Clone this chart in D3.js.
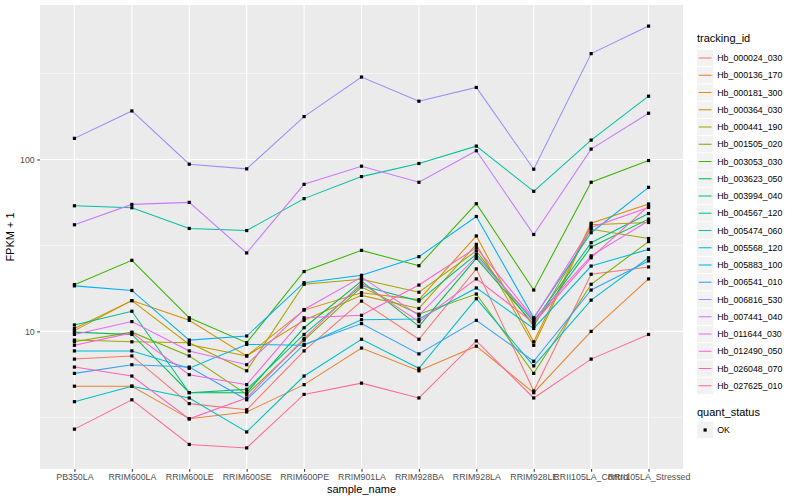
<!DOCTYPE html>
<html>
<head>
<meta charset="utf-8">
<script src="https://cdn.jsdelivr.net/npm/d3@7"></script>
<style>
  body { margin: 0; background: #fff; }
  text { font-family: "Liberation Sans", Arial, sans-serif; }
</style>
</head>
<body>
<svg id="chart" width="800" height="500"></svg>
<script>
// x categories
const samples = ["PB350LA", "RRIM600LA", "RRIM600LE", "RRIM600SE", "RRIM600PE", "RRIM901LA",
  "RRIM928BA", "RRIM928LA", "RRIM928LE", "RRII105LA_Control", "RRII105LA_Stressed"]

const trackingIds = ["Hb_000024_030", "Hb_000136_170", "Hb_000181_300", "Hb_000364_030", "Hb_000441_190",
  "Hb_001505_020", "Hb_003053_030", "Hb_003623_050", "Hb_003994_040", "Hb_004567_120",
  "Hb_005474_060", "Hb_005568_120", "Hb_005883_100", "Hb_006541_010", "Hb_006816_530",
  "Hb_007441_040", "Hb_011644_030", "Hb_012490_050", "Hb_026048_070", "Hb_027625_010"]

// ggplot default hue palette, 20 levels
const colors = ["#F8766D", "#EA8331", "#D89000", "#C09B00", "#A3A500", "#7CAE00", "#39B600", "#00BB4E",
  "#00BF7D", "#00C1A3", "#00BFC4", "#00BAE0", "#00B0F6", "#35A2FF", "#9590FF", "#C77CFF",
  "#E76BF3", "#FA62DB", "#FF62BC", "#FF6C91"]

// FPKM + 1, one array per tracking_id, in sample order
const hb_000024_030 = [6.9, 7.2, 3.8, 3.5, 7.7, 15.0, 9.0, 23.1, 4.5, 21.5, 23.7]
const hb_000136_170 = [4.8, 4.8, 3.1, 3.4, 4.9, 8.0, 5.9, 8.2, 4.4, 10.0, 20.2]
const hb_000181_300 = [10.1, 15.1, 11.6, 7.2, 13.3, 16.8, 15.3, 35.9, 8.7, 42.6, 55.1]
const hb_000364_030 = [10.4, 15.1, 8.4, 7.2, 11.6, 16.2, 13.6, 32.1, 8.3, 41.7, 43.0]
const hb_000441_190 = [8.9, 8.7, 8.6, 5.9, 18.8, 20.1, 16.9, 29.4, 10.7, 39.3, 34.7]
const hb_001505_020 = [8.7, 9.9, 7.2, 4.3, 8.9, 18.1, 12.6, 16.5, 5.7, 18.8, 33.3]
const hb_003053_030 = [18.7, 25.9, 12.0, 8.6, 22.3, 29.6, 24.1, 55.3, 17.4, 73.7, 98.6]
const hb_003623_050 = [9.9, 9.6, 4.4, 4.4, 10.5, 19.6, 10.7, 26.6, 11.0, 31.0, 45.0]
const hb_003994_040 = [10.9, 13.1, 4.4, 4.6, 9.6, 18.5, 15.0, 28.1, 11.4, 32.8, 48.5]
const hb_004567_120 = [53.8, 52.4, 39.7, 38.6, 59.2, 79.5, 94.8, 119.6, 65.3, 129.7, 233.5]
const hb_005474_060 = [3.9, 4.8, 4.1, 2.6, 5.5, 9.0, 6.1, 15.5, 6.3, 15.2, 26.8]
const hb_005568_120 = [7.7, 7.7, 6.1, 8.4, 8.3, 11.7, 11.8, 17.9, 10.4, 24.0, 30.0]
const hb_005883_100 = [18.4, 17.3, 8.9, 9.4, 19.2, 21.2, 27.2, 46.6, 12.0, 37.5, 68.9]
const hb_006541_010 = [5.7, 6.4, 6.2, 4.0, 8.4, 11.1, 7.4, 11.6, 6.7, 17.4, 25.7]
const hb_006816_530 = [132.7, 191.6, 93.9, 88.2, 177.7, 301.7, 218.3, 262.5, 87.8, 412.8, 597]
const hb_007441_040 = [41.7, 54.8, 56.3, 28.6, 71.7, 91.4, 73.7, 112.4, 36.6, 114.9, 185.8]
const hb_011644_030 = [9.6, 11.4, 7.7, 6.4, 13.4, 20.7, 12.4, 27.2, 11.7, 27.5, 44.0]
const hb_012490_050 = [8.3, 9.8, 5.6, 4.9, 12.0, 12.4, 18.6, 30.7, 11.9, 40.2, 52.6]
const hb_026048_070 = [6.2, 5.5, 3.1, 4.1, 9.1, 19.1, 11.4, 20.2, 11.2, 26.8, 53.8]
const hb_027625_010 = [2.7, 4.0, 2.2, 2.1, 4.3, 5.0, 4.1, 8.8, 4.1, 6.9, 9.6]

const seriesValues = [hb_000024_030, hb_000136_170, hb_000181_300, hb_000364_030, hb_000441_190,
  hb_001505_020, hb_003053_030, hb_003623_050, hb_003994_040, hb_004567_120,
  hb_005474_060, hb_005568_120, hb_005883_100, hb_006541_010, hb_006816_530,
  hb_007441_040, hb_011644_030, hb_012490_050, hb_026048_070, hb_027625_010]

const yMajor = [10, 100]
const yMinor = [10 ** 0.5, 10 ** 1.5, 10 ** 2.5]

const series = trackingIds.map((id, i) => ({
  id, color: colors[i],
  points: samples.map((s, j) => ({ sample: s, value: seriesValues[i][j] }))
}))

const panel = { left: 40, top: 5, right: 683, bottom: 469 }
const svg = d3.select("#chart")

const x = d3.scalePoint().domain(samples).range([panel.left, panel.right]).padding(0.6)

// log scale, expanded 5% like ggplot
const all = seriesValues.flat()
const lo = Math.log10(d3.min(all)), hi = Math.log10(d3.max(all))
const pad = (hi - lo) * 0.05
const y = d3.scaleLog().domain([10 ** (lo - pad), 10 ** (hi + pad)]).range([panel.bottom, panel.top])

// panel background + grid
svg.append("rect")
  .attr("x", panel.left).attr("y", panel.top)
  .attr("width", panel.right - panel.left).attr("height", panel.bottom - panel.top)
  .attr("fill", "#EBEBEB")

svg.append("g").selectAll("line").data(yMinor).join("line")
  .attr("x1", panel.left).attr("x2", panel.right)
  .attr("y1", d => y(d)).attr("y2", d => y(d))
  .attr("stroke", "#fff").attr("stroke-width", 0.55)

svg.append("g").selectAll("line").data(yMajor).join("line")
  .attr("x1", panel.left).attr("x2", panel.right)
  .attr("y1", d => y(d)).attr("y2", d => y(d))
  .attr("stroke", "#fff").attr("stroke-width", 1.1)

svg.append("g").selectAll("line").data(samples).join("line")
  .attr("x1", d => x(d)).attr("x2", d => x(d))
  .attr("y1", panel.top).attr("y2", panel.bottom)
  .attr("stroke", "#fff").attr("stroke-width", 1.1)

// lines
const line = d3.line().x(d => x(d.sample)).y(d => y(d.value))

svg.append("g").selectAll("path").data(series).join("path")
  .attr("d", d => line(d.points))
  .attr("fill", "none")
  .attr("stroke", d => d.color)
  .attr("stroke-width", 1.05)

// points (square, black)
svg.append("g").selectAll("rect").data(series.flatMap(d => d.points)).join("rect")
  .attr("x", d => x(d.sample) - 1.6).attr("y", d => y(d.value) - 1.6)
  .attr("width", 3.2).attr("height", 3.2)
  .attr("fill", "#000")

// axes
const xAxis = svg.append("g")
  .attr("transform", `translate(0,${panel.bottom})`)
  .call(d3.axisBottom(x).tickSize(2.75).tickPadding(2.5))
const yAxis = svg.append("g")
  .attr("transform", `translate(${panel.left},0)`)
  .call(d3.axisLeft(y).tickValues(yMajor).tickFormat(d3.format("d")).tickSize(2.75).tickPadding(2.5))

for (const g of [xAxis, yAxis]) {
  g.select(".domain").remove()
  g.selectAll(".tick line").attr("stroke", "#333333").attr("stroke-width", 1.05)
  g.selectAll(".tick text").attr("fill", "#4D4D4D").attr("font-size", 8.8)
    .attr("font-family", "'Liberation Sans', Arial, sans-serif")
}

svg.append("text")
  .attr("x", (panel.left + panel.right) / 2).attr("y", 493)
  .attr("text-anchor", "middle").attr("font-size", 11).attr("fill", "#000")
  .text("sample_name")

svg.append("text")
  .attr("transform", `translate(14,${(panel.top + panel.bottom) / 2}) rotate(-90)`)
  .attr("text-anchor", "middle").attr("font-size", 11).attr("fill", "#000")
  .text("FPKM + 1")

// legend: tracking_id
const keySize = 17.28, legX = 697, firstKey = 58
const legend = svg.append("g")

legend.append("text")
  .attr("x", legX).attr("y", 42)
  .attr("font-size", 11).text("tracking_id")

const items = legend.selectAll("g.item").data(series).join("g")
  .attr("class", "item")
  .attr("transform", (d, i) => `translate(${legX},${firstKey + i * 17.25})`)

items.append("rect")
  .attr("x", 0).attr("y", -keySize / 2 + 0.5).attr("width", keySize - 1).attr("height", keySize - 1)
  .attr("fill", "#F2F2F2")
items.append("line")
  .attr("x1", 1.7).attr("x2", keySize - 2.7).attr("y1", 0).attr("y2", 0)
  .attr("stroke", d => d.color).attr("stroke-width", 1.05)
items.append("text")
  .attr("x", keySize + 3).attr("y", 3.1)
  .attr("font-size", 8.8).attr("fill", "#000")
  .text(d => d.id)

// legend: quant_status
legend.append("text")
  .attr("x", legX).attr("y", 416)
  .attr("font-size", 11).text("quant_status")

const ok = legend.append("g").attr("transform", `translate(${legX},430)`)
ok.append("rect")
  .attr("x", 0).attr("y", -keySize / 2 + 0.5).attr("width", keySize - 1).attr("height", keySize - 1)
  .attr("fill", "#F2F2F2")
ok.append("rect")
  .attr("x", keySize / 2 - 2.1).attr("y", -1.6).attr("width", 3.2).attr("height", 3.2)
  .attr("fill", "#000")
ok.append("text")
  .attr("x", keySize + 3).attr("y", 3.1)
  .attr("font-size", 8.8).text("OK")
</script>
</body>
</html>
